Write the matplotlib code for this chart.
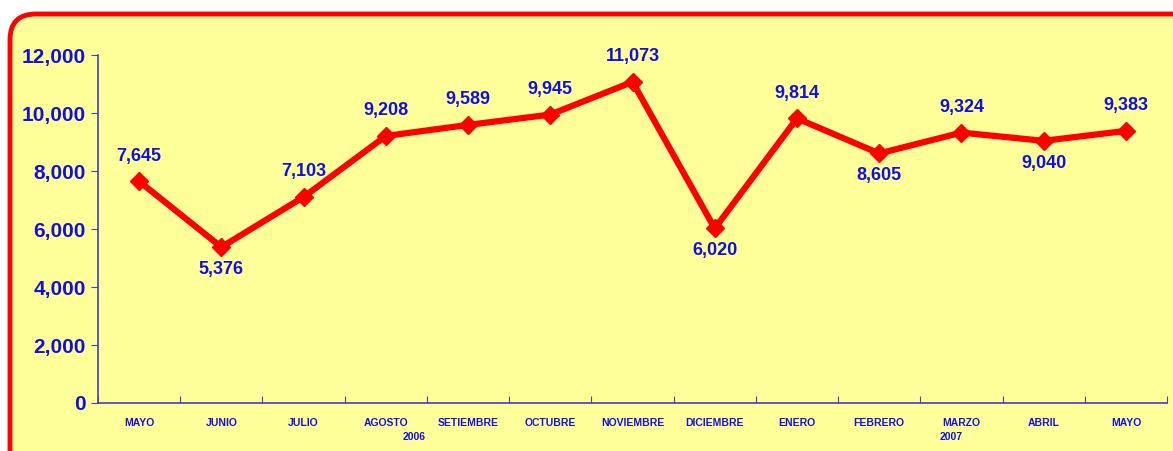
import numpy as np
import matplotlib.pyplot as plt
from matplotlib.patches import FancyBboxPatch
from matplotlib import font_manager

months = ["MAYO", "JUNIO", "JULIO", "AGOSTO", "SETIEMBRE", "OCTUBRE", "NOVIEMBRE",
          "DICIEMBRE", "ENERO", "FEBRERO", "MARZO", "ABRIL", "MAYO"]
values = [7645, 5376, 7103, 9208, 9589, 9945, 11073, 6020, 9814, 8605, 9324, 9040, 9383]
below = [False, True, False, False, False, False, False, True, False, True, False, True, False]
years = {3: "2006", 10: "2007"}
year_shift = {3: 0.35, 10: -0.12}
yticks = [0, 2000, 4000, 6000, 8000, 10000, 12000]

names = {f.name for f in font_manager.fontManager.ttflist}
fam = ["Liberation Sans Narrow", "Liberation Sans", "DejaVu Sans"]
plt.rcParams['font.family'] = [f for f in fam if f in names] or ["DejaVu Sans"]

blue = "#1010e0"
fig = plt.figure(figsize=(11.73, 4.51), dpi=100)
fig.patch.set_facecolor("white")

W, H = 1173, 451
frame = FancyBboxPatch((10 / W, -0.2), 1.2, 1.2 - 14 / H,
                       boxstyle="round,pad=0,rounding_size=0.022",
                       transform=fig.transFigure, facecolor="#ffff99",
                       edgecolor="#ff0000", linewidth=3.5, zorder=-10,
                       mutation_aspect=W / H)
fig.patches.append(frame)

ax = fig.add_axes([98 / W, (H - 403) / H, (1167 - 98) / W, (403 - 55) / H])
ax.set_facecolor("none")
x = np.arange(len(months))
ax.plot(x, values, color="#ff0000", lw=4.5, marker="D", ms=9, mec="#ff0000", zorder=3)

for i, v in enumerate(values):
    off = -10 if below[i] else 12
    ax.annotate(f"{v:,}", (i, v), xytext=(0, off), textcoords="offset points",
                ha="center", va="top" if below[i] else "bottom",
                color=blue, fontsize=13, fontweight="bold")

ax.set_xlim(-0.5, len(months) - 0.5)
ax.set_ylim(0, 12000)
ax.set_yticks(yticks)
ax.set_yticklabels([f"{t:,}" for t in yticks], color=blue, fontsize=15, fontweight="bold")
ax.set_xticks(np.arange(len(months) + 1) - 0.5)
ax.set_xticklabels([])
ax.set_xticks(x, minor=True)
ax.set_xticklabels(months, minor=True, color=blue, fontsize=7.5, fontweight="bold")
ax.tick_params(axis="x", which="minor", length=0, pad=11)
ax.tick_params(axis="x", which="major", length=5, direction="in", color="#4040c0")
ax.tick_params(axis="y", length=5, color="#4040c0", pad=4)

for i, yr in years.items():
    ax.text(i + year_shift[i], -0.098, yr, transform=ax.get_xaxis_transform(),
            ha="center", va="center", color=blue, fontsize=7.5, fontweight="bold")

for s in ["top", "right"]:
    ax.spines[s].set_visible(False)
for s in ["left", "bottom"]:
    ax.spines[s].set_color("#4040c0")
    ax.spines[s].set_linewidth(1.2)

fig.savefig("out.png", dpi=100)
